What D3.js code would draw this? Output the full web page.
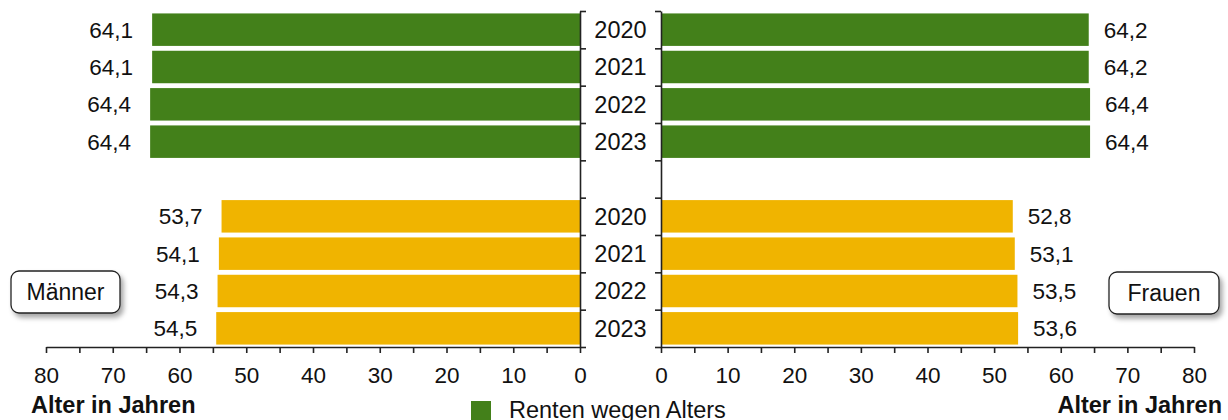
<!DOCTYPE html>
<html>
<head>
<meta charset="utf-8">
<script src="https://cdn.jsdelivr.net/npm/d3@7"></script>
<style>
  html, body { margin: 0; padding: 0; background: #fff; }
  svg { display: block; font-family: "Liberation Sans", Arial, sans-serif; }
</style>
</head>
<body>
<svg id="chart" width="1228" height="420"></svg>
<script>
// Rentenzugangsalter nach Rentenart und Geschlecht
const years = ["2020", "2021", "2022", "2023"];
const maennerAlters = [64.1, 64.1, 64.4, 64.4];
const maennerEM = [53.7, 54.1, 54.3, 54.5];
const frauenAlters = [64.2, 64.2, 64.4, 64.4];
const frauenEM = [52.8, 53.1, 53.5, 53.6];
const xTicks = d3.range(0, 81, 5);
const legendLabels = ["Renten wegen Alters"];

const colAlters = "#43801a";
const colEM = "#f0b400";

const svg = d3.select("#chart");

const defs = svg.append("defs");
defs.append("filter").attr("id", "shadow")
  .attr("x", "-20%").attr("y", "-30%").attr("width", "150%").attr("height", "170%")
  .append("feDropShadow")
  .attr("dx", 3).attr("dy", 4).attr("stdDeviation", 2.5)
  .attr("flood-color", "#000").attr("flood-opacity", 0.35);

// nine vertical slots: four Alters rows, one gap, four EM rows
const slots = ["a0", "a1", "a2", "a3", "gap", "e0", "e1", "e2", "e3"];
const y = d3.scaleBand().domain(slots).range([11, 347]).paddingInner(0.13).paddingOuter(0.065);
const yEdges = d3.scaleLinear().domain([0, slots.length]).range([11, 347]);

const xLeft = d3.scaleLinear().domain([0, 80]).range([580, 46]);
const xRight = d3.scaleLinear().domain([0, 80]).range([661, 1194]);

const rows = [];
years.forEach((yr, i) => {
  rows.push({ slot: "a" + i, year: yr, m: maennerAlters[i], f: frauenAlters[i], color: colAlters });
});
years.forEach((yr, i) => {
  rows.push({ slot: "e" + i, year: yr, m: maennerEM[i], f: frauenEM[i], color: colEM });
});

const fmt = v => d3.format(".1f")(v).replace(".", ",");
const valueSize = 22.5;

// Bars – Männer (left, growing leftwards)
svg.append("g").selectAll("rect").data(rows).join("rect")
  .attr("x", d => xLeft(d.m))
  .attr("y", d => y(d.slot))
  .attr("width", d => xLeft(0) - xLeft(d.m))
  .attr("height", y.bandwidth())
  .attr("fill", d => d.color);

// Bars – Frauen (right)
svg.append("g").selectAll("rect").data(rows).join("rect")
  .attr("x", xRight(0))
  .attr("y", d => y(d.slot))
  .attr("width", d => xRight(d.f) - xRight(0))
  .attr("height", y.bandwidth())
  .attr("fill", d => d.color);

// Value labels
svg.append("g").selectAll("text").data(rows).join("text")
  .attr("x", d => xLeft(d.m) - 19)
  .attr("y", d => y(d.slot) + y.bandwidth() / 2)
  .attr("dy", "0.36em")
  .attr("text-anchor", "end")
  .attr("font-size", valueSize)
  .attr("fill", "#111")
  .text(d => fmt(d.m));

svg.append("g").selectAll("text").data(rows).join("text")
  .attr("x", d => xRight(d.f) + 15)
  .attr("y", d => y(d.slot) + y.bandwidth() / 2)
  .attr("dy", "0.36em")
  .attr("text-anchor", "start")
  .attr("font-size", valueSize)
  .attr("fill", "#111")
  .text(d => fmt(d.f));

// Year labels in the centre column
svg.append("g").selectAll("text").data(rows).join("text")
  .attr("x", (xLeft(0) + xRight(0)) / 2)
  .attr("y", d => y(d.slot) + y.bandwidth() / 2)
  .attr("dy", "0.36em")
  .attr("text-anchor", "middle")
  .attr("font-size", 23.5)
  .attr("fill", "#111")
  .text(d => d.year);

// Vertical axes with ticks at the slot boundaries
const edgeTicks = d3.range(0, slots.length + 1);
const yAxisL = svg.append("g").attr("transform", `translate(${xLeft(0)},0)`)
  .call(d3.axisRight(yEdges).tickValues(edgeTicks).tickFormat("").tickSize(6).tickSizeOuter(0));
const yAxisR = svg.append("g").attr("transform", `translate(${xRight(0)},0)`)
  .call(d3.axisLeft(yEdges).tickValues(edgeTicks).tickFormat("").tickSize(6).tickSizeOuter(0));

// Horizontal axes
const tickFmt = v => (v % 10 === 0 ? String(v) : "");
const xAxisL = svg.append("g").attr("transform", "translate(0,347)")
  .call(d3.axisBottom(xLeft).tickValues(xTicks).tickFormat(tickFmt).tickSize(6).tickSizeOuter(0).tickPadding(14));
const xAxisR = svg.append("g").attr("transform", "translate(0,347)")
  .call(d3.axisBottom(xRight).tickValues(xTicks).tickFormat(tickFmt).tickSize(6).tickSizeOuter(0).tickPadding(14));

[yAxisL, yAxisR, xAxisL, xAxisR].forEach(g => {
  g.selectAll("path.domain").attr("stroke", "#222").attr("stroke-width", 1.6);
  g.selectAll(".tick line").attr("stroke", "#222").attr("stroke-width", 1.6);
  g.selectAll(".tick text").attr("font-size", valueSize).attr("fill", "#111")
    .attr("font-family", "Liberation Sans, Arial, sans-serif");
});

// Axis titles
svg.append("text").attr("x", 31).attr("y", 413)
  .attr("font-size", 23.5).attr("font-weight", "bold").attr("fill", "#111")
  .text("Alter in Jahren");
svg.append("text").attr("x", 1222).attr("y", 413)
  .attr("text-anchor", "end")
  .attr("font-size", 23.5).attr("font-weight", "bold").attr("fill", "#111")
  .text("Alter in Jahren");

// Gender boxes
const boxes = [
  { label: "Männer", x: 11, y: 271, w: 109, h: 42 },
  { label: "Frauen", x: 1109, y: 272, w: 110, h: 42 }
];
const bg = svg.append("g").selectAll("g").data(boxes).join("g");
bg.append("rect")
  .attr("x", d => d.x).attr("y", d => d.y)
  .attr("width", d => d.w).attr("height", d => d.h)
  .attr("rx", 8).attr("fill", "#fff")
  .attr("stroke", "#222").attr("stroke-width", 1.3)
  .attr("filter", "url(#shadow)");
bg.append("text")
  .attr("x", d => d.x + d.w / 2).attr("y", d => d.y + d.h / 2)
  .attr("dy", "0.36em").attr("text-anchor", "middle")
  .attr("font-size", 23).attr("fill", "#111")
  .text(d => d.label);

// Legend
const lg = svg.append("g").selectAll("g").data(legendLabels).join("g")
  .attr("transform", (d, i) => `translate(471,${401 + i * 30})`);
lg.append("rect").attr("width", 20).attr("height", 20).attr("fill", (d, i) => i === 0 ? colAlters : colEM);
lg.append("text").attr("x", 38).attr("y", 17)
  .attr("font-size", 23.5).attr("fill", "#111")
  .text(d => d);
</script>
</body>
</html>
